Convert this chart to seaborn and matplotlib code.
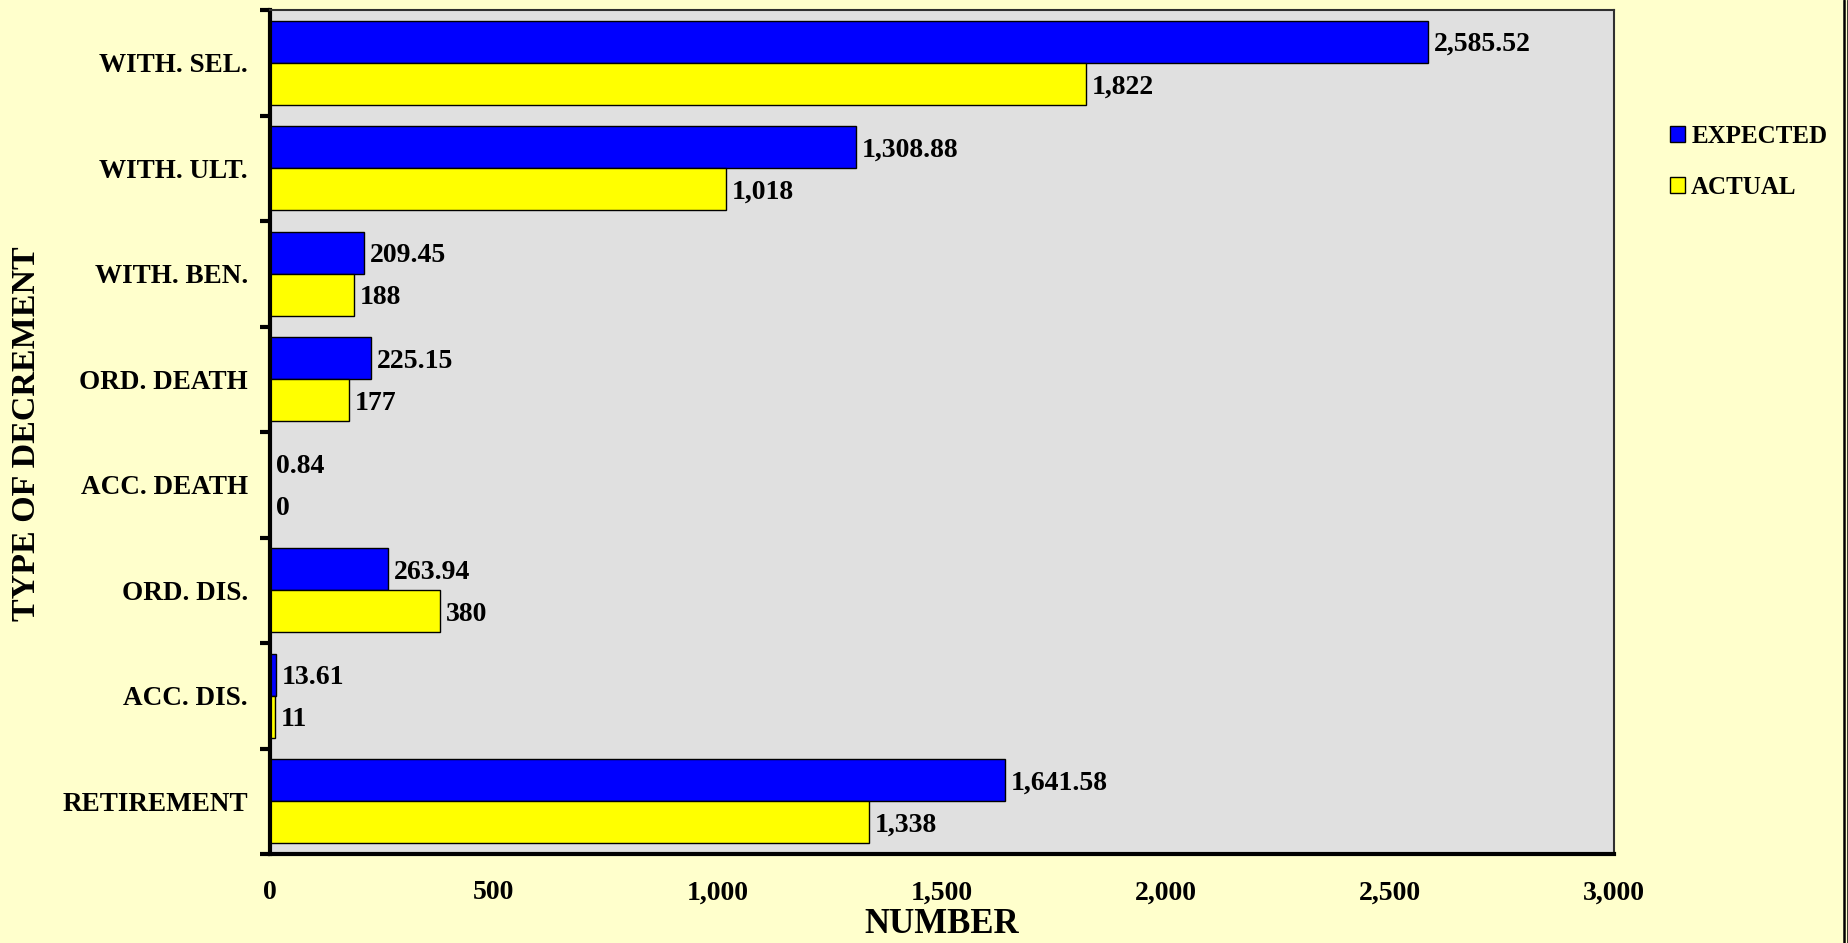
import matplotlib
matplotlib.use("Agg")
import matplotlib.pyplot as plt
from matplotlib.lines import Line2D
from matplotlib.ticker import FuncFormatter, FixedLocator
import numpy as np
import pandas as pd
import seaborn as sns

# Decrement types (top to bottom) and counts
categories = ["WITH. SEL.", "WITH. ULT.", "WITH. BEN.", "ORD. DEATH",
              "ACC. DEATH", "ORD. DIS.", "ACC. DIS.", "RETIREMENT"]
expected = [2585.52, 1308.88, 209.45, 225.15, 0.84, 263.94, 13.61, 1641.58]
actual = [1822, 1018, 188, 177, 0, 380, 11, 1338]
series_names = ["EXPECTED", "ACTUAL"]
x_ticks = [0, 500, 1000, 1500, 2000, 2500, 3000]

df = pd.DataFrame({
    "type": categories * 2,
    "value": expected + actual,
    "series": [series_names[0]] * len(categories) + [series_names[1]] * len(categories),
})

sns.set_theme(style="white")
plt.rcParams["font.family"] = ["Liberation Serif", "DejaVu Serif"]
plt.rcParams["font.weight"] = "bold"
plt.rcParams["text.color"] = "black"
plt.rcParams["axes.labelcolor"] = "black"
plt.rcParams["xtick.color"] = "black"
plt.rcParams["ytick.color"] = "black"

BG = "#FFFFCC"
W, H = 1849, 943
fig = plt.figure(figsize=(W / 100, H / 100), dpi=100, facecolor=BG)
ax = fig.add_axes([270 / W, 1 - 854 / H, (1614 - 270) / W, (854 - 10) / H])
ax.set_facecolor("#E0E0E0")

sns.barplot(data=df, y="type", x="value", hue="series", orient="h",
            order=categories, hue_order=series_names,
            palette=["#0000FF", "#FFFF00"], saturation=1,
            edgecolor="black", linewidth=1.0, width=0.8, ax=ax, legend=True)

# value labels at the end of each bar
for container, vals, fmt in zip(ax.containers, [expected, actual],
                                ["{:,.2f}", "{:,.0f}"]):
    texts = ax.bar_label(container, labels=[fmt.format(v) for v in vals],
                         padding=4, fontsize=20, fontweight="bold",
                         color="black")
    for t in texts:
        t.set_verticalalignment("center_baseline")

ax.set_xlim(0, 3000)
ax.set_ylim(len(categories) - 0.5, -0.5)
ax.xaxis.set_major_locator(FixedLocator(x_ticks))
ax.xaxis.set_major_formatter(FuncFormatter(lambda v, p: f"{v:,.0f}"))
ax.tick_params(axis="x", which="major", direction="out", length=7, width=3,
               color="black", labelcolor="black", labelsize=20, pad=12)
ax.set_yticks(np.arange(len(categories) + 1) - 0.5, minor=True)
ax.tick_params(axis="y", which="minor", direction="out", length=7, width=3,
               color="black", left=True)
ax.tick_params(axis="y", which="major", length=0, labelsize=19.5, pad=16,
               labelcolor="black")
for lab in ax.get_xticklabels() + ax.get_yticklabels():
    lab.set_fontweight("bold")

ax.set_xlabel("NUMBER", fontsize=25, fontweight="bold", labelpad=2,
              color="black")
ax.set_ylabel("")
fig.text(27 / W, 1 - 434 / H, "TYPE OF DECREMENT", rotation=90,
         ha="center", va="center", fontsize=24.5, fontweight="bold",
         color="black")

for side in ["left", "bottom"]:
    ax.spines[side].set_color("black")
    ax.spines[side].set_linewidth(3)
for side in ["top", "right"]:
    ax.spines[side].set_color("#303030")
    ax.spines[side].set_linewidth(1.5)

handles, labels = ax.get_legend_handles_labels()
ax.get_legend().remove()
fig.legend(handles, labels, loc="upper left",
           bbox_to_anchor=(1670 / W, 1 - 125 / H), frameon=False,
           prop={"size": 18, "weight": "bold"}, handlelength=0.6,
           handleheight=0.6, handletextpad=0.25, labelspacing=1.1,
           borderpad=0, borderaxespad=0)

# double rule along the right edge of the figure
for xpix, lw in [(1844.5, 1.8), (1848.0, 1.8)]:
    fig.add_artist(Line2D([xpix / W, xpix / W], [0, 1], color="black",
                          linewidth=lw, transform=fig.transFigure))

fig.savefig("out.png", dpi=100, facecolor=BG)
